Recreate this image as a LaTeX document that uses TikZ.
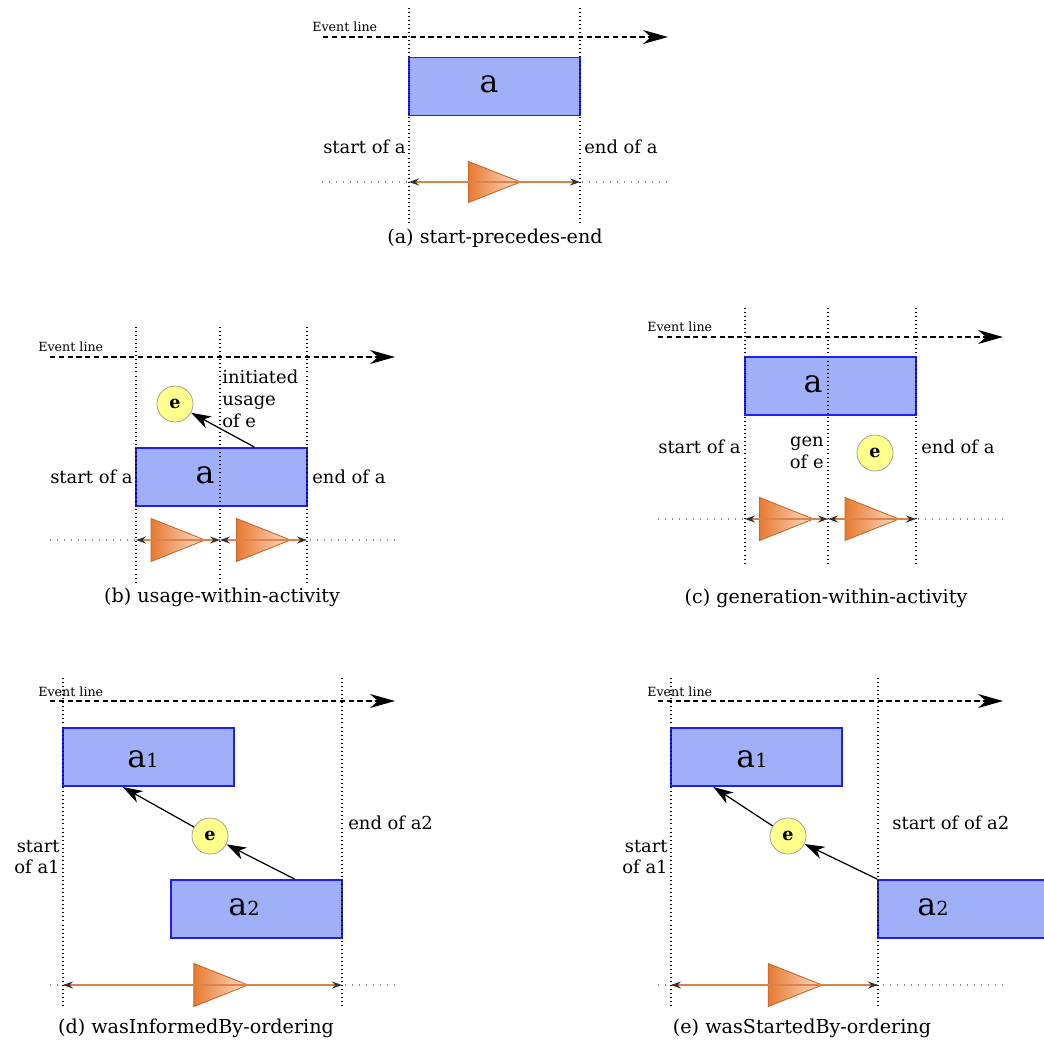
\documentclass[tikz,border=0pt]{standalone}
\usepackage{fontspec}
\setmainfont{DejaVu Serif}
\usetikzlibrary{arrows.meta,calc}

\definecolor{actfill}{RGB}{160,176,248}
\definecolor{actline}{RGB}{30,30,245}
\definecolor{entfill}{RGB}{255,255,140}
\definecolor{spanorange}{RGB}{222,130,75}
\definecolor{trileft}{RGB}{232,122,50}
\definecolor{triright}{RGB}{252,222,200}

\tikzset{
  act/.style={draw=actline, fill=actfill, line width=1.1pt,
    minimum width=3.42cm, minimum height=1.16cm, inner sep=0pt},
  acttxt/.style={inner sep=0pt, font=\fontsize{18}{18}\selectfont},
  ent/.style={circle, draw=black!40, fill=entfill, minimum size=0.72cm,
    inner sep=0pt, font=\bfseries\fontsize{10}{10}\selectfont},
  lbl/.style={inner sep=0pt, font=\fontsize{10.2}{12.4}\selectfont},
  captxt/.style={inner sep=0pt, font=\fontsize{10.9}{12}\selectfont},
  evtxt/.style={inner sep=0pt, anchor=west, font=\fontsize{7.2}{8}\selectfont},
  evline/.style={dash pattern=on 3pt off 2pt, line width=0.7pt,
    -{Stealth[length=5mm,width=2.8mm,inset=1.6mm]}},
  vline/.style={dash pattern=on 0.5pt off 1.8pt, line width=0.6pt},
  hline/.style={black!45, dash pattern=on 0.6pt off 3.4pt, line width=0.6pt},
  spanline/.style={spanorange, line width=0.9pt,
    {Stealth[length=2mm,width=1.4mm,black!80]}-{Stealth[length=2mm,width=1.4mm,black!80]}},
  tri/.style={draw=trileft!85!black, line width=0.5pt, left color=trileft, right color=triright},
  infl/.style={line width=0.7pt, -{Stealth[length=4mm,width=2.6mm,inset=1.2mm]}},
}

\newcommand{\actsub}[1]{{\fontsize{11}{11}\selectfont #1}}

\begin{document}
\begin{tikzpicture}[x=0.02cm,y=-0.02cm]
  \useasboundingbox (0,0) rectangle (1044,1042);

  % (a) start precedes end
  \node[evtxt] (a-ev) at (312,27) {Event line};
  \draw[evline] (323,37) -- (668,37);
  \node[act] (a) at (494.5,86.5) {};
  \node[acttxt] (a-txt) at (489,84) {a};
  \foreach \x in {409,580}
    \draw[vline] (\x,8) -- (\x,223);
  \node[lbl, anchor=east] (a-st) at (406,147) {start of a};
  \node[lbl, anchor=west] (a-en) at (584,147) {end of a};
  \draw[hline] (322,182) -- (668,182);
  \coordinate (a-s) at (409,182);
  \coordinate (a-e) at (580,182);
  \draw[tri] ($(a-s)!0.5!(a-e)$) ++(-26,-20.5) -- ++(52,20.5) -- ++(-52,20.5) -- cycle;
  \draw[spanline] (a-s) -- (a-e);
  \node[captxt] (a-cap) at (495,238) {(a) start-precedes-end};

  % (b) usage within activity
  \node[evtxt] (b-ev) at (38,347) {Event line};
  \draw[evline] (50,357) -- (395,357);
  \node[act] (b) at (221.5,477) {};
  \node[acttxt] (b-txt) at (205,475) {a};
  \node[ent] (b-e) at (175,404) {e};
  \coordinate (b-from) at ($(b.north west)!0.69!(b.north east)$);
  \draw[infl] (b-from) -- (b-e);
  \foreach \x in {136,220,307}
    \draw[vline] (\x,327) -- (\x,583);
  \node[lbl, anchor=west, align=left] (b-use) at (222,399) {initiated\\usage\\of e};
  \node[lbl, anchor=east] (b-st) at (133,477) {start of a};
  \node[lbl, anchor=west] (b-en) at (312,477) {end of a};
  \draw[hline] (50,540) -- (395,540);
  \coordinate (b-s) at (136,540);
  \coordinate (b-m) at (220,540);
  \coordinate (b-e2) at (307,540);
  \draw[tri] ($(b-s)!0.5!(b-m)$) ++(-27,-21.5) -- ++(54,21.5) -- ++(-54,21.5) -- cycle;
  \draw[tri] ($(b-m)!0.5!(b-e2)$) ++(-27,-21.5) -- ++(54,21.5) -- ++(-54,21.5) -- cycle;
  \draw[spanline] (b-s) -- (b-m);
  \draw[spanline] (b-m) -- (b-e2);
  \node[captxt] (b-cap) at (222,597) {(b) usage-within-activity};

  % (c) generation within activity
  \node[evtxt] (c-ev) at (647,327) {Event line};
  \draw[evline] (658,337) -- (1003,337);
  \node[act] (c) at (830.5,386) {};
  \node[acttxt] (c-txt) at (813,384) {a};
  \node[ent] (c-e) at (875,453) {e};
  \foreach \x in {745,828,916}
    \draw[vline] (\x,308) -- (\x,563);
  \node[lbl, anchor=east] (c-st) at (741,447) {start of a};
  \node[lbl, anchor=east, align=right] (c-gen) at (824,453) {gen\\of e};
  \node[lbl, anchor=west] (c-en) at (921,447) {end of a};
  \draw[hline] (658,519) -- (1003,519);
  \coordinate (c-s) at (745,519);
  \coordinate (c-m) at (828,519);
  \coordinate (c-e2) at (916,519);
  \draw[tri] ($(c-s)!0.5!(c-m)$) ++(-27,-21.5) -- ++(54,21.5) -- ++(-54,21.5) -- cycle;
  \draw[tri] ($(c-m)!0.5!(c-e2)$) ++(-27,-21.5) -- ++(54,21.5) -- ++(-54,21.5) -- cycle;
  \draw[spanline] (c-s) -- (c-m);
  \draw[spanline] (c-m) -- (c-e2);
  \node[captxt] (c-cap) at (826,598) {(c) generation-within-activity};

  % (d) wasInformedBy ordering
  \node[evtxt] (d-ev) at (38,692) {Event line};
  \draw[evline] (50,701) -- (395,701);
  \node[act] (d1) at (148.5,757) {};
  \node[act] (d2) at (256.5,909) {};
  \node[acttxt] (d1-txt) at (143,759) {a\actsub{1}};
  \node[acttxt] (d2-txt) at (244,907) {a\actsub{2}};
  \node[ent] (d-e) at (210,836) {e};
  \coordinate (d-from) at ($(d2.north west)!0.72!(d2.north east)$);
  \coordinate (d-to) at ($(d1.south west)!0.35!(d1.south east)$);
  \draw[infl] (d-from) -- (d-e);
  \draw[infl] (d-e) -- (d-to);
  \foreach \x in {63,342}
    \draw[vline] (\x,678) -- (\x,1008);
  \node[lbl, anchor=east, align=right] (d-st) at (60,857) {start\\of a1};
  \node[lbl, anchor=west] (d-en) at (348,823) {end of a2};
  \draw[hline] (50,985) -- (395,985);
  \coordinate (d-s) at (63,985);
  \coordinate (d-e2) at (342,985);
  \draw[tri] ($(d-s)!0.566!(d-e2)$) ++(-27,-21.5) -- ++(54,21.5) -- ++(-54,21.5) -- cycle;
  \draw[spanline] (d-s) -- (d-e2);
  \node[captxt] (d-cap) at (196,1028) {(d) wasInformedBy-ordering};

  % (e) wasStartedBy ordering
  \node[evtxt] (e-ev) at (647,692) {Event line};
  \draw[evline] (658,701) -- (1003,701);
  \node[act] (e1) at (756.5,757) {};
  \node[act] (e2) at (963.5,909) {};
  \node[acttxt] (e1-txt) at (752,759) {a\actsub{1}};
  \node[acttxt] (e2-txt) at (933,907) {a\actsub{2}};
  \node[ent] (e-e) at (788,836) {e};
  \coordinate (e-to) at ($(e1.south west)!0.25!(e1.south east)$);
  \draw[infl] (e2.north west) -- (e-e);
  \draw[infl] (e-e) -- (e-to);
  \foreach \x in {671,878}
    \draw[vline] (\x,678) -- (\x,1008);
  \node[lbl, anchor=east, align=right] (e-st) at (668,857) {start\\of a1};
  \node[lbl, anchor=west] (e-en) at (892,823) {start of of a2};
  \draw[hline] (658,985) -- (1003,985);
  \coordinate (e-s) at (671,985);
  \coordinate (e-e2) at (878,985);
  \draw[tri] ($(e-s)!0.6!(e-e2)$) ++(-27,-21.5) -- ++(54,21.5) -- ++(-54,21.5) -- cycle;
  \draw[spanline] (e-s) -- (e-e2);
  \node[captxt] (e-cap) at (802,1028) {(e) wasStartedBy-ordering};
\end{tikzpicture}
\end{document}
